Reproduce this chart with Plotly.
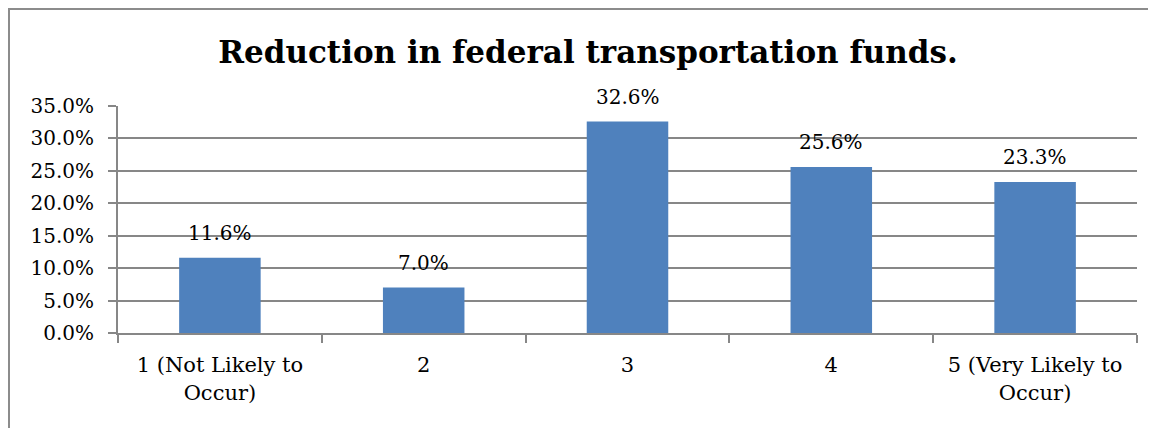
import plotly.graph_objects as go

categories = ["1 (Not Likely to<br>Occur)", "2", "3", "4", "5 (Very Likely to<br>Occur)"]
values = [11.6, 7.0, 32.6, 25.6, 23.3]
labels = ["11.6%", "7.0%", "32.6%", "25.6%", "23.3%"]
y_ticks = [0, 5, 10, 15, 20, 25, 30, 35]
y_ticktext = ["0.0%", "5.0%", "10.0%", "15.0%", "20.0%", "25.0%", "30.0%", "35.0%"]
title = "Reduction in federal transportation funds."

FONT = "DejaVu Serif"
GRID = "#878787"

W, H = 1148, 420  # page body has an 8px margin

fig = go.Figure()
fig.add_trace(go.Bar(x=categories, y=values, marker=dict(color="#4F81BD", line=dict(width=0)),
                     width=0.4, hoverinfo="skip"))

for i, (v, t) in enumerate(zip(values, labels)):
    fig.add_annotation(x=i, y=v, xref="x", yref="y", text=t, showarrow=False,
                       yanchor="middle", yshift=25,
                       font=dict(family=FONT, size=20, color="#000000"))

fig.update_layout(
    width=W, height=H,
    margin=dict(l=110, r=19, t=98, b=95, pad=0),
    paper_bgcolor="white", plot_bgcolor="white",
    showlegend=False,
    title=dict(text="<b>" + title + "</b>", x=580 / W, xanchor="center", xref="container",
               y=1 - 44 / H, yanchor="middle", yref="container",
               font=dict(family=FONT, size=31, color="#000000")),
    xaxis=dict(showgrid=False, showline=True, linecolor=GRID, linewidth=2,
               ticks="outside", tickson="boundaries", ticklen=8, tickcolor=GRID, tickwidth=2,
               ticklabelstandoff=12,
               tickfont=dict(family=FONT, size=21, color="#000000"), tickangle=0),
    yaxis=dict(range=[0, 35], tickvals=y_ticks, ticktext=y_ticktext, showgrid=True,
               gridcolor=GRID, gridwidth=2, showline=True, linecolor=GRID, linewidth=2,
               ticks="outside", ticklen=8, tickcolor=GRID, tickwidth=2, zeroline=False,
               ticklabelstandoff=10,
               tickfont=dict(family=FONT, size=20, color="#000000")),
    shapes=[dict(type="rect", xref="paper", yref="paper",
                 x0=-109 / 1019, x1=1.2, y0=-0.6, y1=1 + 97 / 227,
                 line=dict(color="#8c8c8c", width=2), fillcolor="rgba(0,0,0,0)", layer="below")],
)

fig.write_html("out.html")
